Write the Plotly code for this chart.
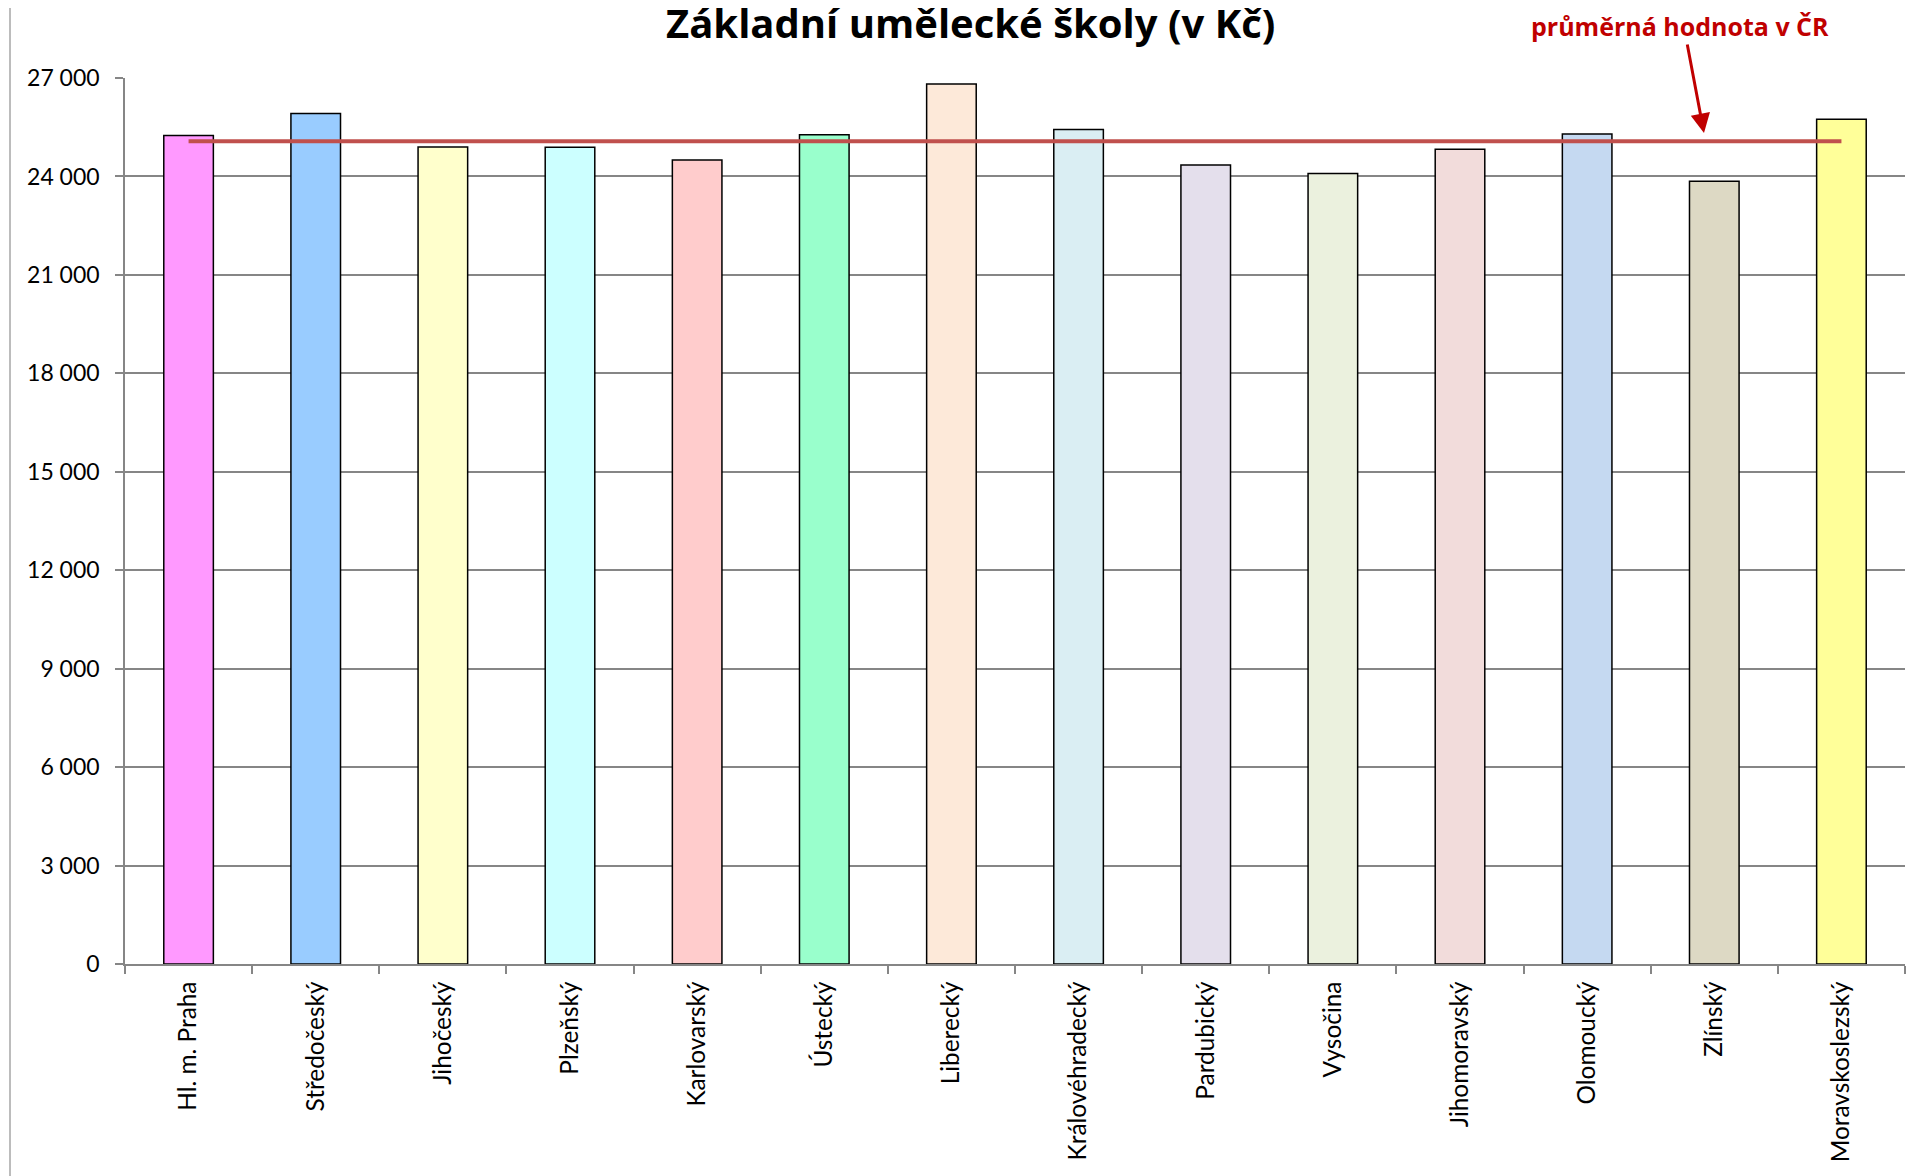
import plotly.graph_objects as go

categories = ["Hl. m. Praha", "Středočeský", "Jihočeský", "Plzeňský", "Karlovarský",
              "Ústecký", "Liberecký", "Královéhradecký", "Pardubický", "Vysočina",
              "Jihomoravský", "Olomoucký", "Zlínský", "Moravskoslezský"]
values = [25250, 25920, 24900, 24890, 24500, 25270, 26820, 25430, 24350, 24090,
          24830, 25290, 23850, 25740]
average_cr = 25070
bar_colors = ["#FF99FF", "#99CCFF", "#FFFFCC", "#CCFFFF", "#FFCCCC", "#99FFCC",
              "#FDE9D9", "#DAEEF3", "#E4DFEC", "#EBF1DE", "#F2DCDB", "#C5D9F1",
              "#DDD9C4", "#FFFF99"]
title_text = "Základní umělecké školy (v Kč)"
avg_label = "průměrná hodnota v ČR"

W, H = 1916, 1176
OFF = 8  # page body margin
L, R, T, B = 117, 19, 70, 220
pw, ph = W - L - R, H - T - B

def px_x(xp):
    return (xp - OFF - L) / pw

def px_y(yp):
    return (H - B - (yp - OFF)) / ph

fig = go.Figure()
fig.add_trace(go.Bar(
    x=categories, y=values,
    marker=dict(color=bar_colors, line=dict(color="#000000", width=1.5)),
    width=0.39, showlegend=False, hoverinfo="x+y",
))
fig.add_trace(go.Scatter(
    x=categories, y=[average_cr] * len(categories), mode="lines",
    line=dict(color="#C0504D", width=4), showlegend=False,
))

fig.update_layout(
    width=W, height=H,
    margin=dict(l=L, r=R, t=T, b=B, pad=0),
    paper_bgcolor="white", plot_bgcolor="white",
    separators=", ",
    font=dict(family="Lato, 'Open Sans', sans-serif", color="#000000", size=23),
    xaxis=dict(
        type="category", tickangle=-90, ticks="outside", tickson="boundaries",
        ticklen=8, tickcolor="#868686", tickwidth=1.5,
        showline=True, linecolor="#868686", linewidth=1.5,
        showgrid=False, tickfont=dict(size=24.4), ticklabelstandoff=6,
    ),
    yaxis=dict(
        range=[0, 27000], dtick=3000, tickformat=",d", ticks="outside",
        ticklen=8, tickcolor="#868686", tickwidth=1.5,
        showline=True, linecolor="#868686", linewidth=1.5,
        showgrid=True, gridcolor="#868686", gridwidth=1.5,
        zeroline=False, tickfont=dict(size=23), ticklabelstandoff=11,
    ),
    shapes=[dict(type="line", xref="paper", yref="paper",
                 x0=px_x(10), x1=px_x(10), y0=px_y(H + OFF), y1=px_y(OFF),
                 line=dict(color="#A6A6A6", width=1.5))],
    annotations=[
        dict(text="<b>" + title_text + "</b>", xref="paper", yref="paper",
             x=px_x(970), y=px_y(23), xanchor="center", yanchor="middle",
             showarrow=False,
             font=dict(family="'Open Sans', sans-serif", size=40, color="#000000")),
        dict(text="<b>" + avg_label + "</b>", xref="paper", yref="paper",
             x=px_x(1680), y=px_y(26), xanchor="center", yanchor="middle",
             showarrow=False,
             font=dict(family="'Open Sans', sans-serif", size=25, color="#C00000")),
        dict(text="", xref="paper", yref="paper",
             x=px_x(1704), y=px_y(133), ax=-17, ay=-90,
             showarrow=True, arrowhead=2, arrowsize=1.3, arrowwidth=3,
             arrowcolor="#C00000"),
    ],
)

fig.write_html("out.html")
